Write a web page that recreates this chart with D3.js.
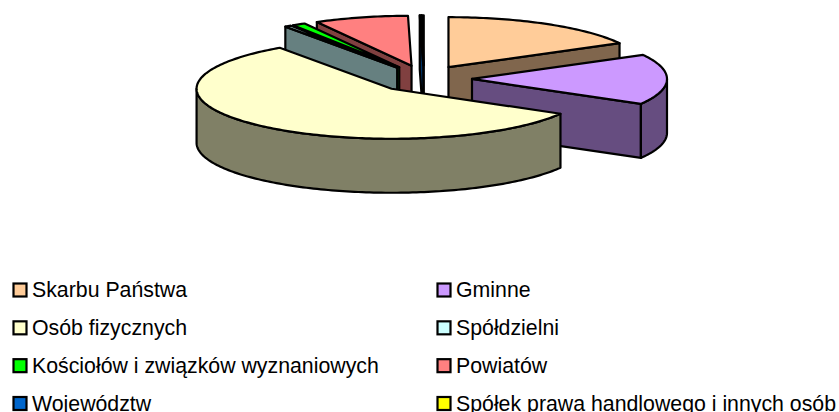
<!DOCTYPE html>
<html>
<head>
<meta charset="utf-8">
<script src="https://cdn.jsdelivr.net/npm/d3@7/dist/d3.min.js"></script>
<style>
html,body{margin:0;padding:0;background:#fff;overflow:hidden}
svg{display:block}
text{font-family:"Liberation Sans",Arial,sans-serif;font-size:21.3px;fill:#000}
</style>
</head>
<body>
<svg id="c" width="839" height="412"></svg>
<script>
const categories = ["Skarbu Państwa","Gminne","Osób fizycznych","Spółdzielni","Kościołów i związków wyznaniowych","Powiatów","Województw","Spółek prawa handlowego i innych osób"];
const shares = [17.03, 16.3, 56.95, 0.55, 1.1, 7.78, 0.12, 0.17];
const colors = ["#FFCC99","#CC99FF","#FFFFCC","#CCFFFF","#00FF00","#FF8080","#0066CC","#FFFF00"];

const W = 839, H = 412;
const cx = 424, cy = 78.8, rx = 195, ry = 50, depth = 54, explode = 48, explodeY = 13.5;
const svg = d3.select("#c");

const unitX = d3.scaleLinear().domain([-1,1]).range([-rx,rx]);
const unitY = d3.scaleLinear().domain([-1,1]).range([-ry,ry]);
const pie = d3.pie().sort(null).value(d => d.v);
const arcs = pie(shares.map((v,i)=>({v,i,name:categories[i],color:colors[i]})));
const line = d3.line();

function outer(c, a){ return [c[0]+unitX(Math.sin(a)), c[1]-unitY(Math.cos(a))]; }
function arcPts(c, a, b){
  const n = Math.max(2, Math.ceil((b-a)/0.02));
  return d3.range(n+1).map(k => outer(c, a+(b-a)*k/n));
}
const slices = arcs.map(s => {
  const mid = (s.startAngle+s.endAngle)/2;
  const apex = [cx+explode*Math.sin(mid), cy-explodeY*Math.cos(mid)];
  return {...s, mid, apex};
}).sort((p,q) => Math.cos(q.mid)-Math.cos(p.mid));

const g = svg.append("g").attr("stroke","#000").attr("stroke-width",2.2).attr("stroke-linejoin","round");
function face(pts, fill){ g.append("path").attr("d", line(pts)+"Z").attr("fill", fill); }

slices.forEach(s => {
  const top = s.data.color, base = d3.rgb(top);
  const wall = d3.rgb(base.r*0.5, base.g*0.5, base.b*0.5).formatHex();
  const a = s.startAngle, b = s.endAngle, c = s.apex;
  const down = p => [p[0], p[1]+depth];
  if (Math.sin(a) < 0) { const o = outer(c,a); face([c,o,down(o),down(c)], wall); }
  if (Math.sin(b) > 0) { const o = outer(c,b); face([c,o,down(o),down(c)], wall); }
  const lo = Math.max(a, Math.PI/2), hi = Math.min(b, 3*Math.PI/2);
  if (hi > lo) {
    const pts = arcPts(c, lo, hi);
    face(pts.concat(pts.map(down).reverse()), wall);
  }
  face([c].concat(arcPts(c,a,b)), top);
});

const legendX = d3.scalePoint().domain([0,1]).range([13,437]);
const legendY = d3.scaleLinear().domain([0,3]).range([290,403.5]);
const items = svg.append("g").selectAll("g").data(categories).join("g")
  .attr("transform",(d,i)=>`translate(${legendX(i%2)},${legendY(Math.floor(i/2))})`);
items.append("rect").attr("x",0.5).attr("y",-6.5).attr("width",13).attr("height",13)
  .attr("fill",(d,i)=>colors[i]).attr("stroke","#000").attr("stroke-width",2.2);
items.append("text").attr("x",19).attr("y",7).text(d=>d);
</script>
</body>
</html>
